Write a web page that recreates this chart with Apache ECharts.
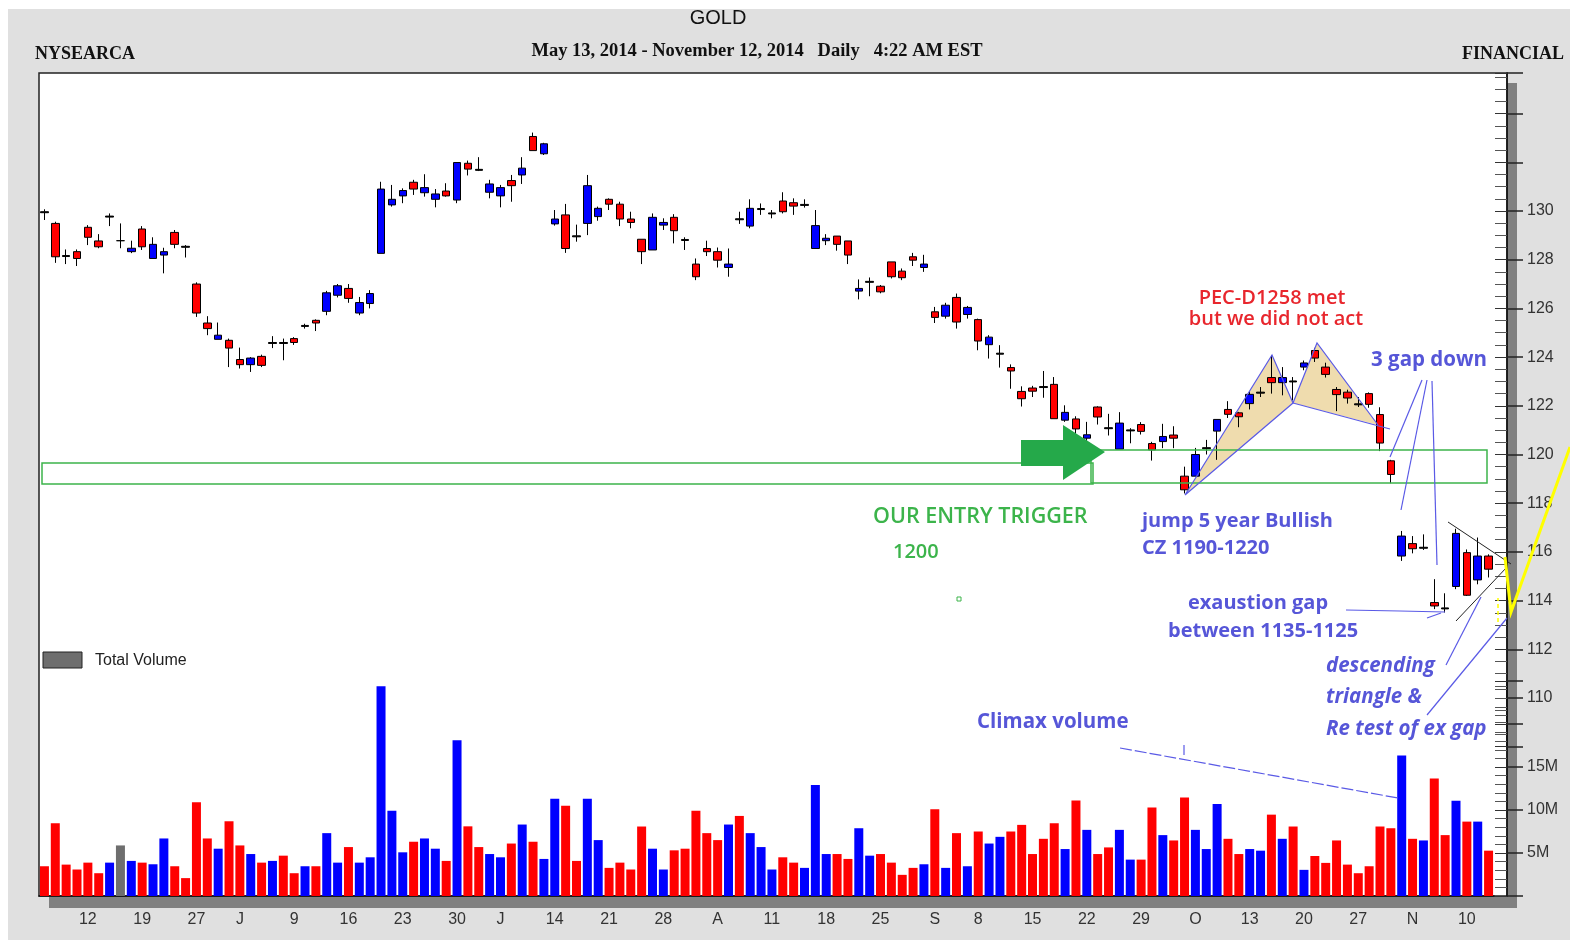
<!DOCTYPE html>
<html>
<head>
<meta charset="utf-8">
<title>GOLD</title>
<script src="https://cdn.jsdelivr.net/npm/echarts@6/dist/echarts.min.js"></script>
<style>
    html, body { margin: 0; padding: 0; background: #fff; }
    #chart { width: 1570px; height: 947px; }
</style>
</head>
<body>
<div id="chart"></div>
<script type="application/javascript">
    // trading days, May 6 - Nov 12 2014
    var dates = ['5/6','5/7','5/8','5/9','5/12','5/13','5/14','5/15','5/16','5/19','5/20','5/21','5/22','5/23','5/27','5/28','5/29','5/30',
        '6/2','6/3','6/4','6/5','6/6','6/9','6/10','6/11','6/12','6/13','6/16','6/17','6/18','6/19','6/20','6/23','6/24','6/25','6/26','6/27','6/30',
        '7/1','7/2','7/3','7/7','7/8','7/9','7/10','7/11','7/14','7/15','7/16','7/17','7/18','7/21','7/22','7/23','7/24','7/25','7/28','7/29','7/30','7/31',
        '8/1','8/4','8/5','8/6','8/7','8/8','8/11','8/12','8/13','8/14','8/15','8/18','8/19','8/20','8/21','8/22','8/25','8/26','8/27','8/28','8/29',
        '9/2','9/3','9/4','9/5','9/8','9/9','9/10','9/11','9/12','9/15','9/16','9/17','9/18','9/19','9/22','9/23','9/24','9/25','9/26','9/29','9/30',
        '10/1','10/2','10/3','10/6','10/7','10/8','10/9','10/10','10/13','10/14','10/15','10/16','10/17','10/20','10/21','10/22','10/23','10/24','10/27','10/28','10/29','10/30','10/31',
        '11/3','11/4','11/5','11/6','11/7','11/10','11/11','11/12'];

    var opens = [129.97,129.49,128.17,128.33,129.33,128.77,129.75,128.78,128.33,129.26,128.05,128.19,129.12,128.55,127.00,125.40,124.73,124.69,
        123.90,123.69,124.03,124.56,124.60,124.76,125.26,125.51,125.88,126.54,126.82,125.81,126.20,128.26,130.25,130.62,131.18,130.75,130.48,130.82,130.45,
        131.96,131.71,130.77,130.62,131.25,131.48,133.06,132.35,129.47,129.84,128.98,129.49,129.77,130.48,130.28,129.67,128.84,128.40,129.42,129.74,128.83,127.82,
        128.46,128.33,127.68,129.68,129.38,130.06,129.88,130.41,130.34,130.23,128.46,128.78,128.97,128.77,126.71,127.07,126.91,127.91,127.53,128.12,127.68,
        125.86,125.68,126.45,125.75,125.54,124.51,124.12,123.57,122.59,122.73,122.79,122.88,121.41,121.46,120.67,121.95,121.10,120.22,120.97,121.23,120.45,
        120.53,120.80,119.11,119.11,120.24,120.96,121.85,121.71,122.09,122.52,123.16,122.95,123.02,123.59,124.27,123.59,122.67,122.56,122.08,122.50,121.64,119.74,115.83,
        116.34,116.15,113.92,113.70,114.58,115.97,114.85,115.83];

    var closes = [129.93,128.12,128.13,128.05,128.92,128.53,129.79,128.78,128.47,128.53,128.63,128.33,128.63,128.51,125.81,125.17,124.90,124.37,
        123.69,123.96,123.66,124.60,124.56,124.60,125.30,125.40,126.64,126.93,126.41,126.24,126.61,130.90,130.48,130.84,130.90,130.96,130.70,130.62,131.99,
        131.72,131.67,131.11,130.96,131.04,131.76,132.48,132.76,129.67,128.46,128.94,131.04,130.11,130.28,129.67,129.53,128.33,129.74,129.53,129.19,128.79,127.30,
        128.33,127.98,127.82,129.64,130.11,130.10,129.92,129.97,130.20,130.27,129.40,128.88,128.63,128.19,126.82,127.11,126.68,127.30,127.26,127.98,127.82,
        125.63,126.13,125.44,126.04,124.66,124.82,124.16,123.43,122.29,122.60,122.75,121.47,121.73,121.05,120.81,121.54,121.06,121.29,121.01,120.95,120.19,
        120.74,120.67,118.55,120.00,120.28,121.44,121.65,121.55,122.47,122.56,122.95,123.16,122.98,123.76,123.96,123.29,122.46,122.32,122.04,122.06,120.47,119.18,116.65,
        116.13,116.19,113.78,113.66,116.76,114.22,115.83,115.29];

    var lows = [129.63,127.87,127.82,127.74,128.60,128.47,129.38,128.47,128.27,128.40,128.05,127.44,128.47,128.09,125.65,124.90,124.73,123.59,
        123.53,123.39,123.59,124.37,123.87,124.50,125.17,125.07,125.72,126.45,126.23,125.72,126.00,128.26,130.18,130.32,130.66,130.59,130.15,130.59,130.32,
        131.46,131.64,130.52,130.15,130.38,131.11,132.48,132.30,129.40,128.28,128.74,129.01,129.60,130.04,129.38,129.29,127.82,128.40,129.22,128.67,128.40,127.16,
        128.15,127.68,127.30,129.47,129.29,129.84,129.70,129.90,129.84,130.14,128.45,128.60,128.37,127.82,126.37,126.50,126.62,127.23,127.16,127.74,127.50,
        125.40,125.58,125.17,125.58,124.28,123.94,123.57,122.70,121.97,122.36,122.33,121.47,121.34,120.74,120.45,121.23,120.78,120.22,120.46,120.82,119.75,
        120.26,120.26,118.40,119.11,120.00,119.78,121.50,121.12,121.85,122.36,122.50,122.43,122.22,123.46,123.80,123.16,121.78,122.09,121.95,121.92,120.14,118.82,115.63,
        115.94,116.08,113.65,113.51,114.47,114.19,114.67,114.95];

    var highs = [130.07,129.56,128.42,128.42,129.42,129.05,129.90,129.49,128.78,129.38,128.92,128.49,129.22,128.60,127.07,125.68,125.42,124.76,
        124.39,124.00,124.10,124.86,124.76,124.82,125.37,125.55,126.72,127.00,127.00,126.47,126.75,131.20,131.07,130.93,131.28,131.51,130.90,131.14,131.99,
        132.07,132.21,131.28,131.07,131.48,132.21,133.22,132.80,130.04,130.29,129.44,131.48,130.18,130.52,130.38,129.97,128.84,129.90,129.70,129.87,128.92,128.05,
        128.78,128.50,128.46,129.97,130.48,130.31,130.04,130.77,130.52,130.48,130.04,129.05,128.97,128.77,127.19,127.27,126.96,127.91,127.64,128.28,128.20,
        126.06,126.23,126.61,126.10,125.58,124.90,124.49,123.70,122.80,122.82,123.43,123.18,122.02,121.57,121.34,121.98,121.67,121.74,121.08,121.33,120.52,
        121.26,121.16,119.50,120.27,120.60,121.44,122.19,121.75,122.60,122.77,124.07,123.59,123.18,123.86,124.38,123.77,122.77,122.66,122.36,122.55,121.94,119.78,116.86,
        116.65,116.72,114.88,114.30,116.95,116.10,116.59,115.90];

    // volume, millions of shares
    var volumes = [3.46,8.46,3.65,3.08,3.88,2.65,3.88,5.88,4.08,3.88,3.69,6.69,3.46,2.08,10.9,6.69,5.5,8.69,
        5.88,4.88,3.88,4.08,4.69,2.65,3.46,3.46,7.31,3.88,5.69,3.88,4.5,24.4,9.92,5.08,6.31,6.69,5.5,4.08,18.1,
        8.1,5.69,4.88,4.5,6.1,8.31,6.31,4.31,11.3,10.5,4.08,11.3,6.5,3.27,3.88,3.08,8.08,5.5,3.08,5.31,5.5,9.92,
        7.31,6.5,8.31,9.31,7.31,5.69,3.08,4.5,3.88,3.27,12.9,4.88,4.88,4.31,7.88,4.69,4.88,3.88,2.46,3.27,3.69,
        10.1,3.27,7.31,3.46,7.5,6.1,6.88,7.5,8.27,4.88,6.65,8.46,5.46,11.1,7.69,4.88,5.65,7.69,4.23,4.23,10.3,
        7.08,6.46,11.46,7.69,5.46,10.7,6.65,4.88,5.46,5.27,9.46,6.65,8.08,3.04,4.65,3.85,6.46,3.65,2.65,3.46,8.08,7.88,16.35,
        6.65,6.46,13.65,7.08,11.08,8.65,8.65,5.27];

    // weekly ticks on the date axis
    var tickDates = ['5/12','5/19','5/27','6/2','6/9','6/16','6/23','6/30','7/7','7/14','7/21','7/28','8/4','8/11','8/18','8/25',
        '9/2','9/8','9/15','9/22','9/29','10/6','10/13','10/20','10/27','11/3','11/10'];
    var tickText = ['12','19','27','J','9','16','23','30','J','14','21','28','A','11','18','25','S','8','15','22','29','O','13','20','27','N','10'];

    var UP = '#0000ff', DOWN = '#ff0000', FLAT = '#6e6e6e';
    var NOTE = '#5656d8', NOTE_RED = '#e8262d', NOTE_GREEN = '#3cb44b', LINE = '#5a5ae6';

    var candleData = dates.map(function (d, i) {
        var item = {value: [opens[i], closes[i], lows[i], highs[i]]};
        if (Math.abs(closes[i] - opens[i]) < 0.06) {
            item.itemStyle = {color: '#000', color0: '#000'};
        }
        return item;
    });
    var volumeData = volumes.map(function (v, i) {
        var c = closes[i] > opens[i] ? UP : (closes[i] < opens[i] ? DOWN : FLAT);
        return {value: v, itemStyle: {color: c}};
    });

    function isTick(index, value) {
        return tickDates.indexOf(value) >= 0;
    }

    function txt(text, x, y, extra) {
        var style = {text: text, x: x, y: y, fill: NOTE, fontSize: 20, fontFamily: 'Open Sans',
            fontWeight: 'bold', align: 'left', verticalAlign: 'middle'};
        for (var k in extra) style[k] = extra[k];
        return {type: 'text', z: 30, silent: true, style: style};
    }
    function pline(points, extra, z) {
        var style = {stroke: LINE, lineWidth: 1.2, fill: null};
        for (var k in extra) style[k] = extra[k];
        return {type: 'polyline', z: z || 20, silent: true, shape: {points: points}, style: style};
    }
    function box(x, y, w, h, style, z) {
        return {type: 'rect', z: z, silent: true, shape: {x: x, y: y, width: w, height: h}, style: style};
    }

    var serif = {fill: '#111', fontFamily: 'Liberation Serif', fontSize: 18};

    var graphics = [
        box(0, 0, 1570, 947, {fill: '#fff'}, -20),
        box(8, 9, 1562, 931, {fill: '#e0e0e0'}, -19),
        box(49, 83, 1468, 825, {fill: '#808080'}, -18),
        box(39, 73, 1468, 823, {fill: '#fff', stroke: '#222', lineWidth: 1.5}, -17),

        // header
        txt('GOLD', 718, 18, {fill: '#111', fontFamily: 'Liberation Sans', fontWeight: 'normal', align: 'center'}),
        txt('NYSEARCA', 35, 54, serif),
        txt('May 13, 2014 - November 12, 2014   Daily   4:22 AM EST', 757, 51,
            {fill: '#111', fontFamily: 'Liberation Serif', fontSize: 18.5, align: 'center'}),
        txt('FINANCIAL', 1462, 54, serif),

        // volume legend
        box(43, 652, 39, 16, {fill: '#6e6e6e', stroke: '#222', lineWidth: 1}, 25),
        txt('Total Volume', 95, 661, {fill: '#222', fontFamily: 'Liberation Sans', fontWeight: 'normal', fontSize: 16}),

        // support zone and entry arrow
        box(42, 463, 1051, 21, {fill: null, stroke: NOTE_GREEN, lineWidth: 1.5}, 18),
        box(1091, 450, 396, 33, {fill: null, stroke: NOTE_GREEN, lineWidth: 1.5}, 18),
        {type: 'polygon', z: 19, silent: true,
            shape: {points: [[1021, 440], [1063, 440], [1063, 425], [1105, 452], [1063, 480], [1063, 466], [1021, 466]]},
            style: {fill: '#25a94a'}},
        box(957, 597, 4, 4, {fill: null, stroke: NOTE_GREEN, lineWidth: 1}, 18),
        txt('OUR ENTRY TRIGGER', 873, 517, {fill: NOTE_GREEN, fontWeight: 600, fontSize: 21.5}),
        txt('1200', 893, 552, {fill: NOTE_GREEN, fontWeight: 600, fontSize: 20}),

        // harmonic pattern
        {type: 'polygon', z: 1, silent: true, shape: {points: [[1185, 495], [1272, 355], [1293, 403]]},
            style: {fill: '#efdcae'}},
        {type: 'polygon', z: 1, silent: true, shape: {points: [[1293, 403], [1317, 343], [1378, 425]]},
            style: {fill: '#efdcae'}},
        pline([[1185, 495], [1272, 355], [1293, 403], [1185, 495]]),
        pline([[1293, 403], [1317, 343], [1378, 425]]),
        pline([[1293, 403], [1390, 429]]),
        txt('PEC-D1258 met', 1272, 298, {fill: NOTE_RED, align: 'center', fontSize: 20, fontWeight: 600}),
        txt('but we did not act', 1276, 319.5, {fill: NOTE_RED, align: 'center', fontSize: 20, fontWeight: 600}),

        // gaps
        txt('3 gap down', 1371, 360, {fontSize: 20.5}),
        pline([[1422, 380], [1390, 457]]),
        pline([[1427, 380], [1401, 510]]),
        pline([[1432, 381], [1437, 565]]),
        txt('jump 5 year Bullish', 1142, 521),
        txt('CZ 1190-1220', 1142, 548.5),
        txt('exaustion gap', 1258, 603, {align: 'center'}),
        txt('between 1135-1125', 1168, 631),
        pline([[1346, 610], [1400, 611], [1445, 612]]),
        pline([[1427, 618], [1441, 613]]),

        // descending triangle
        pline([[1448, 522], [1511, 564]], {stroke: '#222', lineWidth: 1}),
        pline([[1456, 621], [1507, 567]], {stroke: '#222', lineWidth: 1}),
        pline([[1446, 665], [1481, 597]]),
        pline([[1427, 715], [1507, 618]]),
        txt('descending', 1326, 666, {fontStyle: 'italic', fontSize: 20.5}),
        txt('triangle &', 1326, 697.5, {fontStyle: 'italic', fontSize: 20.5}),
        txt('Re test of ex gap', 1326, 729, {fontStyle: 'italic', fontSize: 20.5}),
        pline([[1505, 557], [1511, 612], [1570, 447]], {stroke: '#ffff00', lineWidth: 3}, 40),
        pline([[1498, 622], [1498, 598]], {stroke: '#ffff00', lineWidth: 1.5, lineDash: [4, 3]}, 40),

        // volume note
        txt('Climax volume', 977, 722, {fontSize: 20.5}),
        pline([[1120, 748], [1398, 798]], {lineDash: [12, 3]}),
        pline([[1184, 745], [1184, 755]])
    ];

    var priceAxisBase = {
        type: 'value', gridIndex: 0, position: 'right', offset: 13,
        min: 108, max: 135.667, interval: 2, scale: true,
        splitLine: {show: false}
    };
    var volAxisBase = {
        type: 'value', gridIndex: 1, position: 'right', offset: 13,
        min: 0, max: 25, interval: 5,
        splitLine: {show: false}
    };
    function merge(a, b) {
        var o = {};
        for (var k in a) o[k] = a[k];
        for (var j in b) o[j] = b[j];
        return o;
    }

    var chart = echarts.init(document.getElementById('chart'));
    var option = {
        animation: false,
        backgroundColor: '#fff',
        graphic: graphics,
        grid: [
            {left: 39, top: 73, width: 1455, height: 673.7},
            {left: 39, top: 681, width: 1455, height: 215}
        ],
        xAxis: [
            {type: 'category', gridIndex: 0, data: dates, show: false},
            {
                type: 'category', gridIndex: 1, data: dates,
                axisLine: {lineStyle: {color: '#111', width: 1.5}},
                axisTick: {alignWithLabel: true, interval: isTick, length: 11, lineStyle: {color: '#111', width: 1.5}},
                axisLabel: {
                    interval: isTick, margin: 16, fontSize: 16, color: '#333', fontFamily: 'Liberation Sans',
                    formatter: function (v) { return tickText[tickDates.indexOf(v)]; }
                },
                splitLine: {show: false}
            }
        ],
        yAxis: [
            merge(priceAxisBase, {
                axisLine: {show: true, lineStyle: {color: '#111', width: 1.5}},
                axisTick: {show: true, inside: true, length: 12, lineStyle: {color: '#333'}},
                minorTick: {show: true, splitNumber: 4, length: 12, lineStyle: {color: '#555'}},
                axisLabel: {
                    margin: 20, fontSize: 16, color: '#333', fontFamily: 'Liberation Sans',
                    formatter: function (v) { return (v >= 110 && v <= 130) ? String(v) : ''; }
                }
            }),
            merge(priceAxisBase, {
                axisLine: {show: false},
                axisTick: {show: true, inside: false, length: 16, lineStyle: {color: '#222', width: 1.5}},
                axisLabel: {show: false}
            }),
            merge(volAxisBase, {
                axisLine: {show: true, lineStyle: {color: '#111', width: 1.5}},
                axisTick: {show: true, inside: true, length: 12, lineStyle: {color: '#333'}},
                minorTick: {show: true, splitNumber: 5, length: 12, lineStyle: {color: '#555'}},
                axisLabel: {
                    margin: 20, fontSize: 16, color: '#333', fontFamily: 'Liberation Sans',
                    formatter: function (v) { return (v >= 5 && v <= 15) ? v + 'M' : ''; }
                }
            }),
            merge(volAxisBase, {
                axisLine: {show: false},
                axisTick: {show: true, inside: false, length: 16, lineStyle: {color: '#222', width: 1.5}},
                axisLabel: {show: false}
            })
        ],
        series: [
            {
                name: 'GOLD', type: 'candlestick', xAxisIndex: 0, yAxisIndex: 0,
                data: candleData, barWidth: 8,
                itemStyle: {
                    color: UP, color0: DOWN, borderColor: '#000', borderColor0: '#000',
                    borderColorDoji: '#000', borderWidth: 1
                }
            },
            {
                name: 'Total Volume', type: 'bar', xAxisIndex: 1, yAxisIndex: 2,
                data: volumeData, barWidth: 9
            }
        ]
    };
    chart.setOption(option);
</script>
</body>
</html>
